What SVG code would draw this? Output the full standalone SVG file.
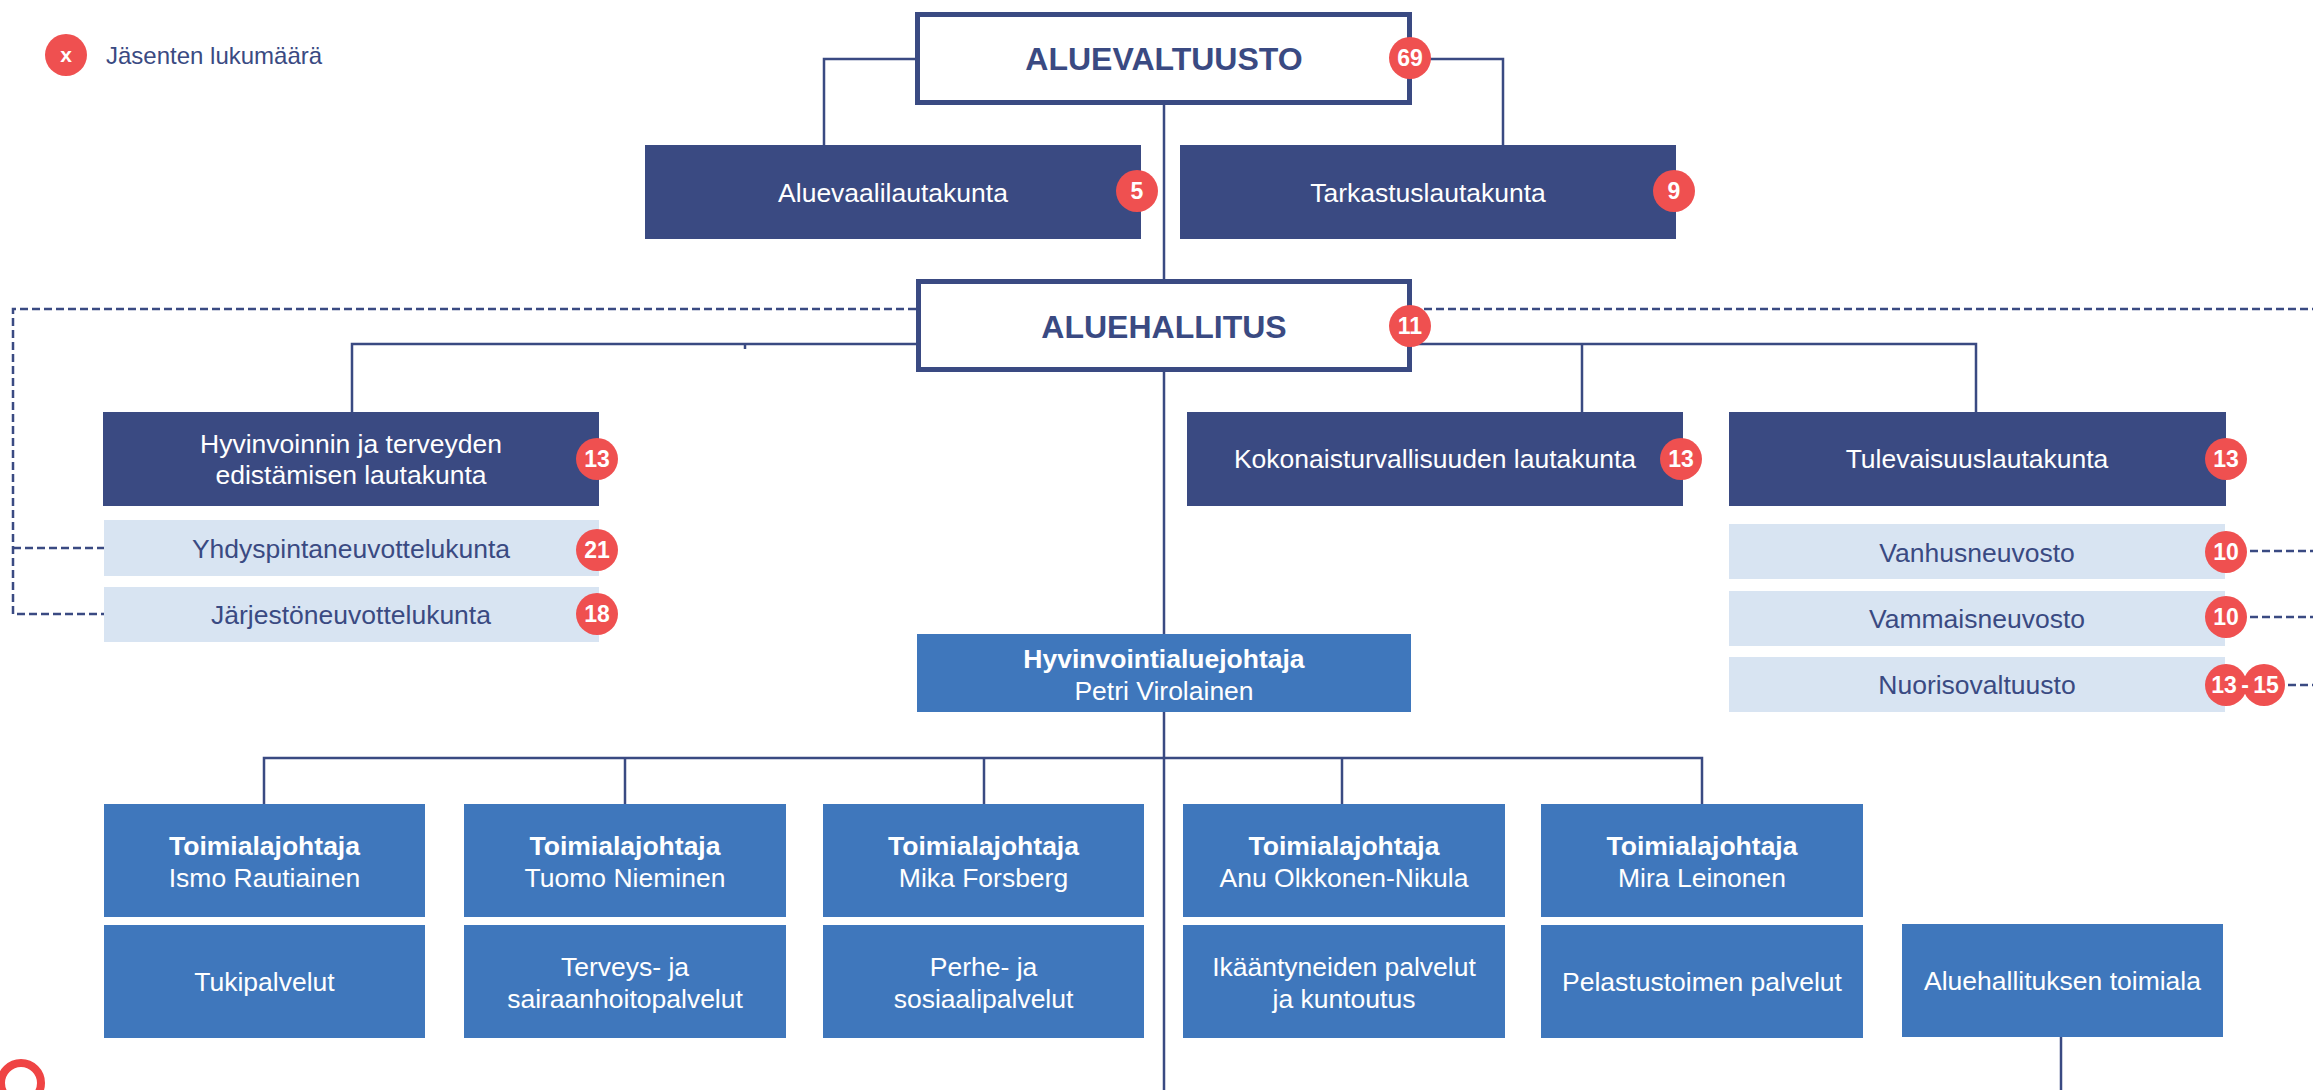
<svg xmlns="http://www.w3.org/2000/svg" width="2313" height="1090" viewBox="0 0 2313 1090">
<style>
text{font-family:"Liberation Sans",Arial,sans-serif;font-size:26.5px;text-anchor:middle}
.dark{fill:#3A4A82}
.mid{fill:#3F77BC}
.light{fill:#D8E4F2}
.wt{fill:#FFFFFF}
.nt{fill:#3A4A82}
.b{font-weight:bold}
.main{fill:#FFFFFF;stroke:#3A4A82;stroke-width:5}
.mt{fill:#3A4A82;font-weight:bold;font-size:32px}
.badge{fill:#EF5050}
.bt{fill:#FFFFFF;font-weight:bold;font-size:23px}
.con{fill:none;stroke:#3A4A82;stroke-width:2.5}
.dash{fill:none;stroke:#3A4A82;stroke-width:2.5;stroke-dasharray:8 4}
</style>
<rect width="2313" height="1090" fill="#FFFFFF"/>
<g id="legend">
<circle class="badge" cx="66" cy="55" r="21"/>
<text class="bt" x="66" y="62" style="font-size:21px">x</text>
<text class="nt" x="106" y="64" style="font-size:24px;text-anchor:start">Jäsenten lukumäärä</text>
</g>
<g id="connectors">
<path class="con" d="M1164 105 V1090"/>
<path class="con" d="M916 59 H824 V145"/>
<path class="con" d="M1412 59 H1503 V145"/>
<path class="con" d="M916 344 H352 V412"/>
<path class="con" d="M745 344 V349"/>
<path class="con" d="M1412 344 H1976 V412"/>
<path class="con" d="M1582 344 V412"/>
<path class="con" d="M264 804 V758 H1702 V804"/>
<path class="con" d="M625 758 V804"/>
<path class="con" d="M984 758 V804"/>
<path class="con" d="M1342 758 V804"/>
<path class="con" d="M2061 1037 V1090"/>
<path class="dash" d="M916 309 H13 V614 H104"/>
<path class="dash" d="M13 548 H104"/>
<path class="dash" d="M1412 309 H2313"/>
<path class="dash" d="M2226 551 H2313"/>
<path class="dash" d="M2226 617 H2313"/>
<path class="dash" d="M2264 685 H2313"/>
</g>
<g id="aluevaltuusto">
<rect class="main" x="917.5" y="14.5" width="492" height="88"/>
<text class="mt" x="1164" y="70">ALUEVALTUUSTO</text>
<circle class="badge" cx="1410" cy="58" r="21"/>
<text class="bt" x="1410" y="66">69</text>
</g>
<g id="aluevaalilautakunta">
<rect class="dark" x="645" y="145" width="496" height="94"/>
<text class="wt" x="893" y="202">Aluevaalilautakunta</text>
<circle class="badge" cx="1137" cy="191" r="21"/>
<text class="bt" x="1137" y="199">5</text>
</g>
<g id="tarkastuslautakunta">
<rect class="dark" x="1180" y="145" width="496" height="94"/>
<text class="wt" x="1428" y="202">Tarkastuslautakunta</text>
<circle class="badge" cx="1674" cy="191" r="21"/>
<text class="bt" x="1674" y="199">9</text>
</g>
<g id="aluehallitus">
<rect class="main" x="918.5" y="281.5" width="491" height="88"/>
<text class="mt" x="1164" y="338">ALUEHALLITUS</text>
<circle class="badge" cx="1410" cy="326" r="21"/>
<text class="bt" x="1410" y="334">11</text>
</g>
<g id="hyvinvoinnin">
<rect class="dark" x="103" y="412" width="496" height="94"/>
<text class="wt" x="351" y="453">Hyvinvoinnin ja terveyden</text>
<text class="wt" x="351" y="484">edistämisen lautakunta</text>
<circle class="badge" cx="597" cy="459" r="21"/>
<text class="bt" x="597" y="467">13</text>
</g>
<g id="yhdyspintaneuvottelukunta">
<rect class="light" x="104" y="520" width="495" height="56"/>
<text class="nt" x="351" y="558">Yhdyspintaneuvottelukunta</text>
<circle class="badge" cx="597" cy="550" r="21"/>
<text class="bt" x="597" y="558">21</text>
</g>
<g id="jarjestoneuvottelukunta">
<rect class="light" x="104" y="587" width="495" height="55"/>
<text class="nt" x="351" y="624">Järjestöneuvottelukunta</text>
<circle class="badge" cx="597" cy="614" r="21"/>
<text class="bt" x="597" y="622">18</text>
</g>
<g id="kokonaisturvallisuus">
<rect class="dark" x="1187" y="412" width="496" height="94"/>
<text class="wt" x="1435" y="468">Kokonaisturvallisuuden lautakunta</text>
<circle class="badge" cx="1681" cy="459" r="21"/>
<text class="bt" x="1681" y="467">13</text>
</g>
<g id="tulevaisuuslautakunta">
<rect class="dark" x="1729" y="412" width="497" height="94"/>
<text class="wt" x="1977" y="468">Tulevaisuuslautakunta</text>
<circle class="badge" cx="2226" cy="459" r="21"/>
<text class="bt" x="2226" y="467">13</text>
</g>
<g id="vanhusneuvosto">
<rect class="light" x="1729" y="524" width="496" height="55"/>
<text class="nt" x="1977" y="562">Vanhusneuvosto</text>
<circle class="badge" cx="2226" cy="552" r="21"/>
<text class="bt" x="2226" y="560">10</text>
</g>
<g id="vammaisneuvosto">
<rect class="light" x="1729" y="591" width="496" height="55"/>
<text class="nt" x="1977" y="628">Vammaisneuvosto</text>
<circle class="badge" cx="2226" cy="617" r="21"/>
<text class="bt" x="2226" y="625">10</text>
</g>
<g id="nuorisovaltuusto">
<rect class="light" x="1729" y="657" width="496" height="55"/>
<text class="nt" x="1977" y="694">Nuorisovaltuusto</text>
<circle class="badge" cx="2226" cy="685" r="21"/>
<circle class="badge" cx="2264" cy="685" r="21"/>
<text class="bt" x="2224" y="693">13</text>
<text class="bt" x="2245" y="693">-</text>
<text class="bt" x="2266" y="693">15</text>
</g>
<g id="hyvinvointialuejohtaja">
<rect class="mid" x="917" y="634" width="494" height="78"/>
<text class="wt b" x="1164" y="668">Hyvinvointialuejohtaja</text>
<text class="wt" x="1164" y="700">Petri Virolainen</text>
</g>
<g id="toimiala1">
<rect class="mid" x="104" y="804" width="321" height="113"/>
<text class="wt b" x="264.5" y="855">Toimialajohtaja</text>
<text class="wt" x="264.5" y="887">Ismo Rautiainen</text>
<rect class="mid" x="104" y="925" width="321" height="113"/>
<text class="wt" x="264.5" y="991">Tukipalvelut</text>
</g>
<g id="toimiala2">
<rect class="mid" x="464" y="804" width="322" height="113"/>
<text class="wt b" x="625" y="855">Toimialajohtaja</text>
<text class="wt" x="625" y="887">Tuomo Nieminen</text>
<rect class="mid" x="464" y="925" width="322" height="113"/>
<text class="wt" x="625" y="976">Terveys- ja</text>
<text class="wt" x="625" y="1008">sairaanhoitopalvelut</text>
</g>
<g id="toimiala3">
<rect class="mid" x="823" y="804" width="321" height="113"/>
<text class="wt b" x="983.5" y="855">Toimialajohtaja</text>
<text class="wt" x="983.5" y="887">Mika Forsberg</text>
<rect class="mid" x="823" y="925" width="321" height="113"/>
<text class="wt" x="983.5" y="976">Perhe- ja</text>
<text class="wt" x="983.5" y="1008">sosiaalipalvelut</text>
</g>
<g id="toimiala4">
<rect class="mid" x="1183" y="804" width="322" height="113"/>
<text class="wt b" x="1344" y="855">Toimialajohtaja</text>
<text class="wt" x="1344" y="887">Anu Olkkonen-Nikula</text>
<rect class="mid" x="1183" y="925" width="322" height="113"/>
<text class="wt" x="1344" y="976">Ikääntyneiden palvelut</text>
<text class="wt" x="1344" y="1008">ja kuntoutus</text>
</g>
<g id="toimiala5">
<rect class="mid" x="1541" y="804" width="322" height="113"/>
<text class="wt b" x="1702" y="855">Toimialajohtaja</text>
<text class="wt" x="1702" y="887">Mira Leinonen</text>
<rect class="mid" x="1541" y="925" width="322" height="113"/>
<text class="wt" x="1702" y="991">Pelastustoimen palvelut</text>
</g>
<g id="aluehallituksen-toimiala">
<rect class="mid" x="1902" y="924" width="321" height="113"/>
<text class="wt" x="2062.5" y="990">Aluehallituksen toimiala</text>
</g>
<g id="ring">
<circle cx="21" cy="1083" r="20" fill="none" stroke="#EF4444" stroke-width="8"/>
</g>
</svg>
